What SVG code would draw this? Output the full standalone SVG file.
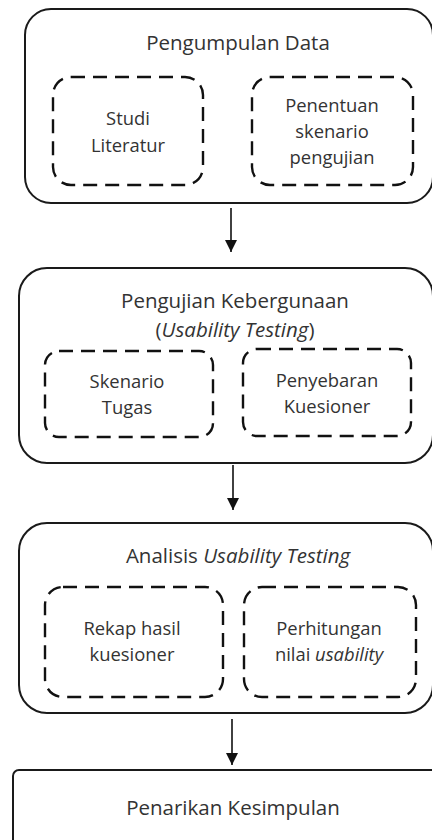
<svg xmlns="http://www.w3.org/2000/svg" width="432" height="840" viewBox="0 0 432 840">
<defs>
<style>
.outer{fill:#fff;stroke:#1a1a1a;stroke-width:2}
.dash{fill:none;stroke:#111;stroke-width:2.4;stroke-dasharray:14 8}
.t{font-family:"Open Sans","Liberation Sans",sans-serif;font-size:18.4px;fill:#333;text-anchor:middle}
.h{font-size:20.5px}
.conn{stroke:#111;stroke-width:1.6;fill:none}
</style>
<marker id="ah" markerWidth="12" markerHeight="13" refX="12" refY="6" orient="auto" markerUnits="userSpaceOnUse">
<path d="M0,0 L12,6 L0,12 Z" fill="#111"/>
</marker>
</defs>
<rect width="432" height="840" fill="#fff"/>
<g id="connectors">
<line class="conn" x1="231" y1="208" x2="231" y2="252" marker-end="url(#ah)"/>
<line class="conn" x1="233" y1="465" x2="233" y2="510" marker-end="url(#ah)"/>
<line class="conn" x1="232" y1="719" x2="232" y2="765" marker-end="url(#ah)"/>
</g>
<g id="pengumpulan">
<rect class="outer" x="25" y="9" width="408" height="194" rx="26"/>
<text class="t h" x="238" y="50">Pengumpulan Data</text>
<g id="studi">
<rect class="dash" x="53" y="77" width="150" height="108" rx="18"/>
<text class="t" x="128" y="125">Studi</text>
<text class="t" x="128" y="152">Literatur</text>
</g>
<g id="penentuan">
<rect class="dash" x="252" y="77" width="161" height="108" rx="18"/>
<text class="t" x="332" y="112">Penentuan</text>
<text class="t" x="332" y="138">skenario</text>
<text class="t" x="332" y="164">pengujian</text>
</g>
</g>
<g id="pengujian">
<rect class="outer" x="19" y="268" width="414" height="195" rx="28"/>
<text class="t h" x="235" y="308">Pengujian Kebergunaan</text>
<text class="t h" x="235" y="337">(<tspan font-style="italic">Usability Testing</tspan>)</text>
<g id="skenario">
<rect class="dash" x="45" y="351" width="168" height="86" rx="14"/>
<text class="t" x="127" y="388">Skenario</text>
<text class="t" x="127" y="414">Tugas</text>
</g>
<g id="penyebaran">
<rect class="dash" x="243" y="349" width="168" height="87" rx="14"/>
<text class="t" x="327" y="387">Penyebaran</text>
<text class="t" x="327" y="413">Kuesioner</text>
</g>
</g>
<g id="analisis">
<rect class="outer" x="19" y="523" width="414" height="190" rx="28"/>
<text class="t h" x="238" y="563">Analisis <tspan font-style="italic">Usability Testing</tspan></text>
<g id="rekap">
<rect class="dash" x="45" y="587" width="178" height="110" rx="18"/>
<text class="t" x="132" y="635">Rekap hasil</text>
<text class="t" x="132" y="661">kuesioner</text>
</g>
<g id="perhitungan">
<rect class="dash" x="244" y="587" width="172" height="110" rx="18"/>
<text class="t" x="329" y="635">Perhitungan</text>
<text class="t" x="329" y="661">nilai <tspan font-style="italic">usability</tspan></text>
</g>
</g>
<g id="penarikan">
<rect class="outer" x="13" y="770" width="430" height="90" rx="6"/>
<text class="t h" x="233" y="815">Penarikan Kesimpulan</text>
</g>
</svg>
